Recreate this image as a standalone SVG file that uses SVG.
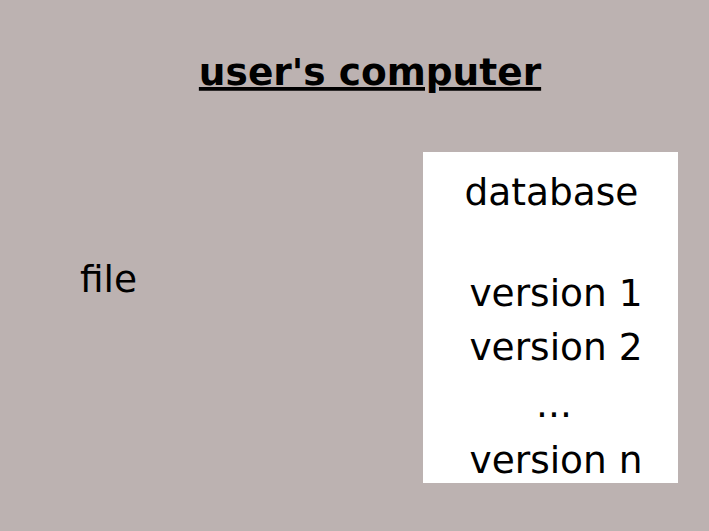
<svg xmlns="http://www.w3.org/2000/svg" width="709" height="531" viewBox="0 0 709 531">
<style>
.t{font-family:"DejaVu Sans",sans-serif;font-size:37.5px;fill:#000;}
.b{font-weight:bold;text-decoration:underline;}
</style>
<rect width="709" height="531" fill="#bcb2b1"/>
<g id="title"><text class="t b" x="370" y="85" text-anchor="middle">user's computer</text></g>
<g id="file"><text class="t" x="80" y="292">file</text></g>
<g id="database">
<rect x="423" y="152" width="255" height="331" fill="#fff"/>
<text class="t" x="551.5" y="205" text-anchor="middle">database</text>
<text class="t" x="556" y="306" text-anchor="middle">version 1</text>
<text class="t" x="556" y="360" text-anchor="middle">version 2</text>
<text class="t" x="554" y="417" text-anchor="middle">...</text>
<text class="t" x="556" y="473" text-anchor="middle">version n</text>
</g>
<g id="connectors"/>
</svg>
